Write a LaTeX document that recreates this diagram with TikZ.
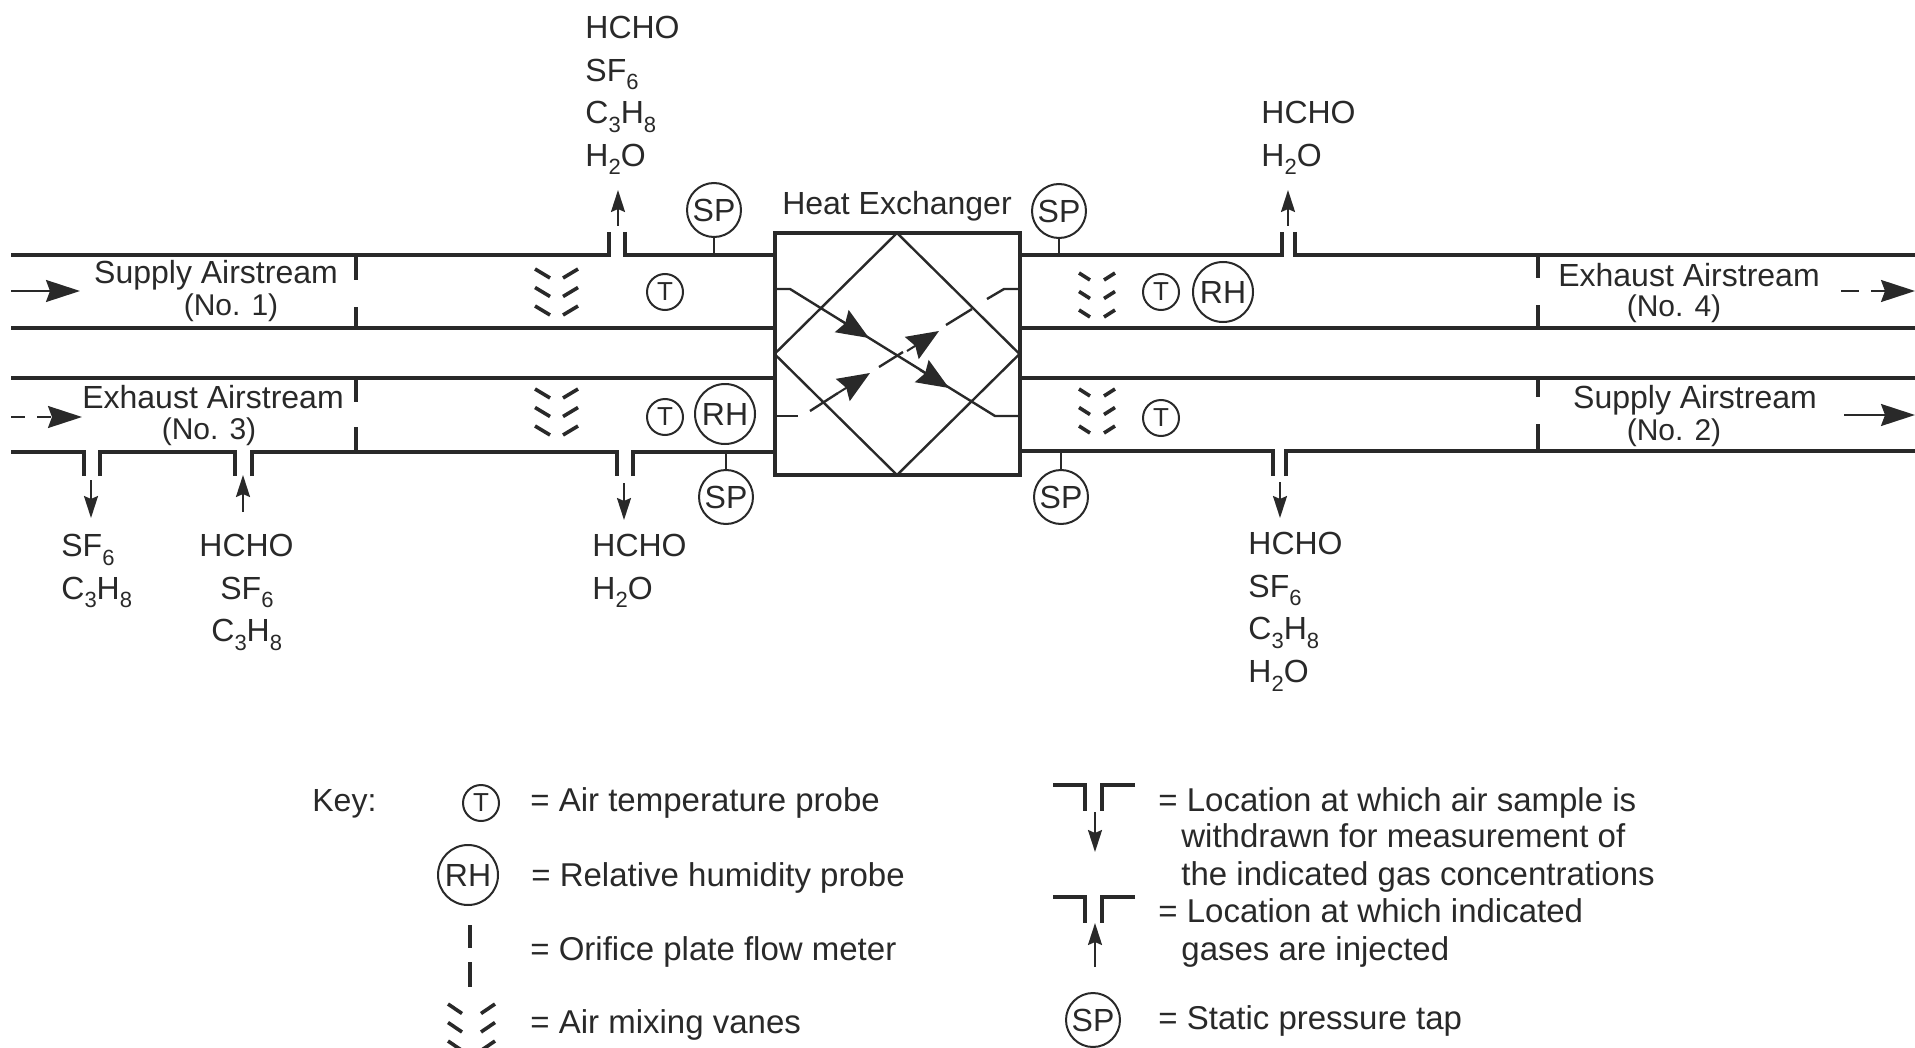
\documentclass[tikz,border=0pt]{standalone}
\usepackage{fontspec}
\setmainfont{Liberation Sans}
\usetikzlibrary{arrows.meta}
\definecolor{scanink}{gray}{0.16}
\newcommand{\sbs}[1]{\raisebox{-0.5ex}{\fontsize{11}{11}\selectfont #1}}
\begin{document}
\begin{tikzpicture}[x=0.5pt,y=-0.5pt,color=scanink,text=scanink]
        \tikzstyle{duct} = [line width=1.6pt,line join=miter]
        \tikzstyle{plate} = [line width=1.8pt]
        \tikzstyle{vane} = [line width=1.8pt]
        \tikzstyle{thin} = [line width=1.2pt]
        \tikzstyle{label} = [font=\fontsize{16}{16}\selectfont,inner sep=0pt,anchor=base]
        \tikzstyle{nolabel} = [label,font=\fontsize{15}{15}\selectfont]
        \tikzstyle{keytext} = [label,anchor=base west,font=\fontsize{16.5}{16.5}\selectfont]
        \tikzstyle{gas} = [font=\fontsize{16}{21.3}\selectfont,inner sep=0pt,align=left,anchor=north west]
        \tikzstyle{probe} = [draw,circle,line width=1pt,inner sep=0pt,font=\fontsize{16}{16}\selectfont]
        \tikzstyle{tprobe} = [probe,minimum size=18pt,font=\fontsize{13}{13}\selectfont]
        \tikzstyle{rhprobe} = [probe,minimum size=30pt,font=\fontsize{16}{16}\selectfont]
        \tikzstyle{spprobe} = [probe,minimum size=27pt]
        \tikzstyle{bighead} = [line width=1pt,-{Stealth[length=17pt,width=11pt,inset=2pt]}]
        \tikzstyle{flowhead} = [line width=1pt,-{Stealth[length=16pt,width=13pt,inset=2pt]}]
        \tikzstyle{gasarrow} = [line width=1.1pt,-{Stealth[length=11pt,width=7pt,inset=1.5pt]}]
        \useasboundingbox (0,0) rectangle (1915,1048);
        % ducts
        \draw[duct] (11,255) -- (609,255) -- (609,232);
        \draw[duct] (625,232) -- (625,255) -- (775,255);
        \draw[duct] (1020,255) -- (1282,255) -- (1282,232);
        \draw[duct] (1295,232) -- (1295,255) -- (1915,255);
        \draw[duct] (11,452) -- (84,452) -- (84,476);
        \draw[duct] (100,476) -- (100,452) -- (235,452) -- (235,476);
        \draw[duct] (252,476) -- (252,452) -- (617,452) -- (617,476);
        \draw[duct] (633,476) -- (633,452) -- (775,452);
        \draw[duct] (1020,451) -- (1273,451) -- (1273,476);
        \draw[duct] (1286,476) -- (1286,451) -- (1915,451);
        \foreach \y in {328,378}{
          \draw[duct] (11,\y) -- (775,\y);
          \draw[duct] (1020,\y) -- (1915,\y);
        }
        % orifice plates
        \foreach \a/\b in {255/280,307/328,378/402,427/452}{
          \draw[plate] (356,\a) -- (356,\b);
        }
        \foreach \a/\b in {255/278,305/328,378/397,424/451}{
          \draw[plate] (1538,\a) -- (1538,\b);
        }
        \draw[plate] (470,925) -- (470,948);
        \draw[plate] (470,962) -- (470,987);
        % vanes
        \foreach \vx/\vy/\vw/\vh/\vg in {535/269/15/9/28,535/389/15/9/28,1079/273/11/7/25,1079/389/11/7/25,448/1004/14/9.5/33}{
          \foreach \n in {0,1,2}{
            \draw[vane] (\vx,\vy+\n*18.5) -- ++(\vw,\vh);
            \draw[vane] (\vx+\vg,\vy+\vh+\n*18.5) -- ++(\vw,-\vh);
          }
        }
        % heat exchanger
        \node[draw,line width=2pt,outer sep=0pt,minimum width=122.5pt,minimum height=121pt,inner sep=0pt] (hx) at (897,354) {};
        \draw[thin,line join=bevel] (hx.north) -- (hx.east) -- (hx.south) -- (hx.west) -- cycle;
        \node[label] (hxname) at (897,214) {Heat Exchanger};
        \coordinate (s0) at (777,289);
        \coordinate (s1) at (790,289);
        \coordinate (s2) at (995,416);
        \coordinate (s3) at (1018,416);
        \draw[thin] (s0) -- (s1) -- (s2) -- (s3);
        \coordinate (h1a) at (840,320);
        \coordinate (h1b) at (869,338);
        \coordinate (h2a) at (920,370);
        \coordinate (h2b) at (949,388);
        \draw[flowhead] (h1a) -- (h1b);
        \draw[flowhead] (h2a) -- (h2b);
        \draw[thin] (777,416) -- (798,416);
        \draw[thin] (810,411) -- (838,393);
        \draw[flowhead] (838,393) -- (870,373);
        \draw[thin] (879,367) -- (903,352);
        \draw[flowhead] (907,351) -- (939,331);
        \draw[thin] (946,325) -- (972,309);
        \draw[thin] (987,299) -- (1004,289) -- (1018,289);
        % stream arrows
        \coordinate (ina) at (11,291);
        \coordinate (inb) at (80,291);
        \coordinate (inc) at (11,417);
        \coordinate (ind) at (82,417);
        \coordinate (outa) at (1841,291);
        \coordinate (outb) at (1915,291);
        \coordinate (outc) at (1844,415);
        \coordinate (outd) at (1915,415);
        \draw[bighead] (ina) -- (inb);
        \draw[bighead,dash pattern=on 7pt off 6pt] (inc) -- (ind);
        \draw[bighead,dash pattern=on 9pt off 6pt] (outa) -- (outb);
        \draw[bighead] (outc) -- (outd);
        \node[label] (sup1) at (216,284) {Supply Airstream};
        \node[nolabel] (no1) at (231,315) {(No. 1)};
        \node[label] (exh3) at (213,408) {Exhaust Airstream};
        \node[nolabel] (no3) at (209,439) {(No. 3)};
        \node[label] (exh4) at (1689,286) {Exhaust Airstream};
        \node[nolabel] (no4) at (1674,316) {(No. 4)};
        \node[label] (sup2) at (1695,408) {Supply Airstream};
        \node[nolabel] (no2) at (1674,440) {(No. 2)};
        % probes
        \foreach \n/\x/\y in {t1/665/292,t3/665/417,t4/1161/292,t2/1161/418,tkey/481/803}{
          \node[tprobe] (\n) at (\x,\y) {T};
        }
        \foreach \n/\x/\y in {rh3/725/414,rh4/1223/292,rhkey/468/875}{
          \node[rhprobe] (\n) at (\x,\y) {RH};
        }
        \foreach \n/\x/\y in {sp1/714/210,sp4/1059/211,sp3/726/497,sp2/1061/497,spkey/1093/1020}{
          \node[spprobe] (\n) at (\x,\y) {SP};
        }
        \coordinate (tap1) at (714,255);
        \coordinate (tap4) at (1059,255);
        \coordinate (tap3) at (726,452);
        \coordinate (tap2) at (1061,451);
        \foreach \n in {1,2,3,4}{
          \draw[thin] (sp\n) -- (tap\n);
        }
        % gas sampling
        \foreach \n/\ax/\ay/\bx/\by in {a/618/226/618/190,b/1288/226/1288/190,c/91/480/91/518,d/243/512/243/475,e/624/483/624/520,f/1280/482/1280/518,g/1095/812/1095/852,h/1095/967/1095/923}{
          \coordinate (\n0) at (\ax,\ay);
          \coordinate (\n1) at (\bx,\by);
          \draw[gasarrow] (\n0) -- (\n1);
        }
        \node[gas] (gasa) at (585,16) {HCHO\\SF\sbs{6}\\C\sbs{3}H\sbs{8}\\H\sbs{2}O};
        \node[gas] (gasb) at (1261,101) {HCHO\\H\sbs{2}O};
        \node[gas] (gasc) at (61,534) {SF\sbs{6}\\C\sbs{3}H\sbs{8}};
        \node[gas] (gasd) at (199,534) {HCHO\\\hspace{10.5pt}SF\sbs{6}\\\hspace{6pt}C\sbs{3}H\sbs{8}};
        \node[gas] (gase) at (592,534) {HCHO\\H\sbs{2}O};
        \node[gas] (gasf) at (1248,532) {HCHO\\SF\sbs{6}\\C\sbs{3}H\sbs{8}\\H\sbs{2}O};
        % key
        \node[label,anchor=base west] (key) at (312,811) {Key:};
        \node[keytext] (k1) at (530,811) {= Air temperature probe};
        \node[keytext] (k2) at (531,886) {= Relative humidity probe};
        \node[keytext] (k3) at (530,960) {= Orifice plate flow meter};
        \node[keytext] (k4) at (530,1033) {= Air mixing vanes};
        \foreach \y in {785,897}{
          \draw[duct,line width=2pt] (1053,\y) -- (1085,\y) -- (1085,\y+26);
          \draw[duct,line width=2pt] (1135,\y) -- (1102,\y) -- (1102,\y+26);
        }
        \node[keytext] (k5) at (1158,811) {= Location at which air sample is};
        \node[keytext] (k6) at (1181,847) {withdrawn for measurement of};
        \node[keytext] (k7) at (1181,885) {the indicated gas concentrations};
        \node[keytext] (k8) at (1158,922) {= Location at which indicated};
        \node[keytext] (k9) at (1181,960) {gases are injected};
        \node[keytext] (k10) at (1158,1029) {= Static pressure tap};
\end{tikzpicture}
\end{document}
